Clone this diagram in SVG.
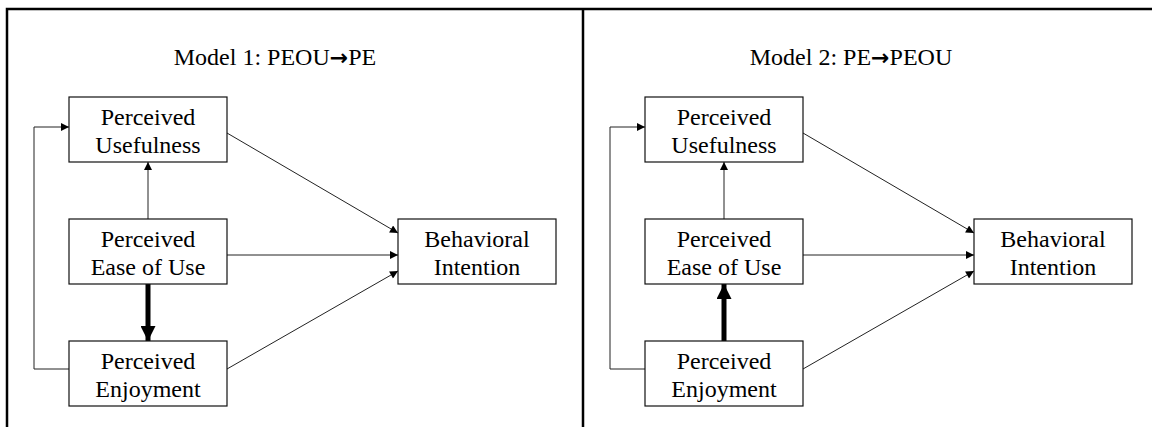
<svg xmlns="http://www.w3.org/2000/svg" width="1152" height="427" viewBox="0 0 1152 427">
<defs>
<style>
.t{font-family:"Liberation Serif","Times New Roman",serif;font-size:24px;fill:#000;text-anchor:middle}
.arr{font-family:"DejaVu Sans",sans-serif;font-weight:bold;font-size:22px}
.box{fill:#fff;stroke:#111;stroke-width:1.2}
.c{fill:none;stroke:#222;stroke-width:1}
.thick{fill:none;stroke:#000;stroke-width:5}
.frame{fill:none;stroke:#000;stroke-width:2.5}
</style>
<marker id="a" viewBox="0 0 10 10" refX="10" refY="5" markerWidth="9" markerHeight="8" markerUnits="userSpaceOnUse" orient="auto"><path d="M0,0L10,5L0,10z" fill="#000"/></marker>
<marker id="b" viewBox="0 0 10 10" refX="10" refY="5" markerWidth="20" markerHeight="15" markerUnits="userSpaceOnUse" orient="auto"><path d="M0,0L10,5L0,10z" fill="#000"/></marker>
</defs>
<g id="frame">
<path class="frame" d="M7,427V9H1152M583,9V427"/>
</g>
<g id="titles">
<text class="t" x="275" y="65">Model 1: PEOU<tspan class="arr">→</tspan>PE</text>
<text class="t" x="851" y="65">Model 2: PE<tspan class="arr">→</tspan>PEOU</text>
</g>
<g id="connectors">
<path class="c" d="M69,369H34V127H69" marker-end="url(#a)"/>
<path class="c" d="M148,219V162" marker-end="url(#a)"/>
<path class="c" d="M227,133L398,233" marker-end="url(#a)"/>
<path class="c" d="M227,255H398" marker-end="url(#a)"/>
<path class="c" d="M227,369L398,271" marker-end="url(#a)"/>
<path class="thick" d="M148,284V341" marker-end="url(#b)"/>
<path class="c" d="M645,369H610V127H645" marker-end="url(#a)"/>
<path class="c" d="M724,219V162" marker-end="url(#a)"/>
<path class="c" d="M803,133L974,233" marker-end="url(#a)"/>
<path class="c" d="M803,255H974" marker-end="url(#a)"/>
<path class="c" d="M803,369L974,271" marker-end="url(#a)"/>
<path class="thick" d="M724,341V284" marker-end="url(#b)"/>
</g>
<g id="m1-pu"><rect class="box" x="69" y="97" width="158" height="65"/><text class="t" x="148" y="125">Perceived</text><text class="t" x="148" y="153">Usefulness</text></g>
<g id="m1-peou"><rect class="box" x="69" y="219" width="158" height="65"/><text class="t" x="148" y="247">Perceived</text><text class="t" x="148" y="275">Ease of Use</text></g>
<g id="m1-pe"><rect class="box" x="69" y="341" width="158" height="65"/><text class="t" x="148" y="369">Perceived</text><text class="t" x="148" y="397">Enjoyment</text></g>
<g id="m1-bi"><rect class="box" x="398" y="219" width="158" height="65"/><text class="t" x="477" y="247">Behavioral</text><text class="t" x="477" y="275">Intention</text></g>
<g id="m2-pu"><rect class="box" x="645" y="97" width="158" height="65"/><text class="t" x="724" y="125">Perceived</text><text class="t" x="724" y="153">Usefulness</text></g>
<g id="m2-peou"><rect class="box" x="645" y="219" width="158" height="65"/><text class="t" x="724" y="247">Perceived</text><text class="t" x="724" y="275">Ease of Use</text></g>
<g id="m2-pe"><rect class="box" x="645" y="341" width="158" height="65"/><text class="t" x="724" y="369">Perceived</text><text class="t" x="724" y="397">Enjoyment</text></g>
<g id="m2-bi"><rect class="box" x="974" y="219" width="158" height="65"/><text class="t" x="1053" y="247">Behavioral</text><text class="t" x="1053" y="275">Intention</text></g>
</svg>
